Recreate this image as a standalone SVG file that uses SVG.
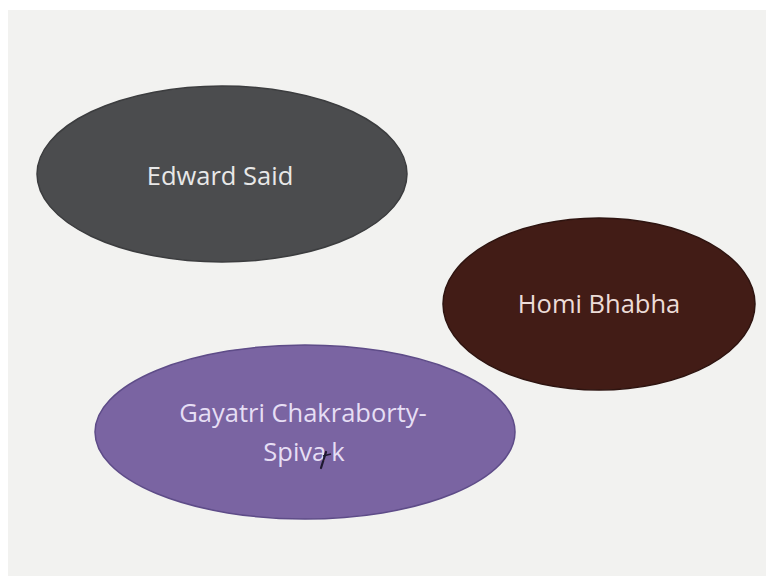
<svg xmlns="http://www.w3.org/2000/svg" width="767" height="578" viewBox="0 0 767 578">
  <style>
    .label { font-family: "Open Sans", "Liberation Sans", sans-serif; font-size: 25.5px; text-anchor: middle; }
    .said { fill: #4b4c4e; stroke: #3c3d3f; stroke-width: 1.5; }
    .bhabha { fill: #421c16; stroke: #2e1410; stroke-width: 1.5; }
    .spivak { fill: #7a64a2; stroke: #5e4c88; stroke-width: 1.5; }
  </style>
  <!-- page and slide background -->
  <rect x="0" y="0" width="767" height="578" fill="#ffffff"/>
  <rect x="8" y="10" width="758" height="566" fill="#f2f2f0"/>

  <g id="edward-said">
    <ellipse class="said" cx="222" cy="174" rx="185" ry="88"/>
    <text class="label" x="220" y="185" fill="#e8e8e8">Edward Said</text>
  </g>

  <g id="homi-bhabha">
    <ellipse class="bhabha" cx="599" cy="304" rx="156" ry="86"/>
    <text class="label" x="599" y="313" fill="#ecdcd8">Homi Bhabha</text>
  </g>

  <g id="gayatri-spivak">
    <ellipse class="spivak" cx="305" cy="432" rx="210" ry="87"/>
    <text class="label" x="303" y="422" fill="#e6def4">Gayatri Chakraborty-</text>
    <text class="label" x="304" y="461" fill="#e6def4">Spiva<tspan dx="5">k</tspan></text>
  </g>

  <!-- pointer mark over the last label -->
  <path d="M326 452 L321 468" stroke="#1e1830" stroke-width="2.2" stroke-linecap="round" fill="none"/>
  <path d="M323 456 L331 454" stroke="#1e1830" stroke-width="1.5" fill="none"/>

  <g id="connectors"/>
</svg>
